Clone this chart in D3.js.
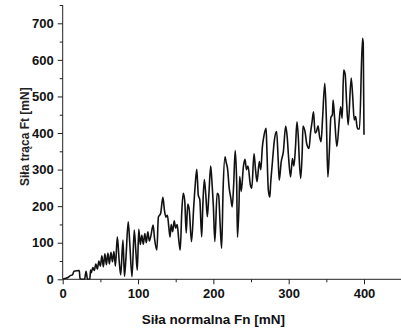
<!DOCTYPE html>
<html><head><meta charset="utf-8">
<script src="https://cdn.jsdelivr.net/npm/d3@7"></script>
<style>body{margin:0;background:#fff}svg{display:block}</style>
</head><body>
<script>
const fnValues = [0,3,7,10,13,15,22,23,26,29,31,33,36,37,38,40,42,44,46,48,50,52,54,56,58,60,62,64,66,68,70,72.5,75,77,80,82,84,87,89,92,95,97,99,101,103,105,107,109,111,113,115,117,120,122,125,127,130,133,135,137,139,141,142.5,144,146,148,150,152,154,156,158,160,162,164,166,168,171,174,176,178,180,182,184.5,186,188,190,192,194,196.5,198,200,202,205,207,209,211,213,215.5,217,219,221,223,225,227,229,231,232,234,235,237,240,242,244,246,249,251,254,256,258,261,263,265,267,270,271,273,275,276,278,281,284,286,287.5,290,293,296,298,300,302.5,305,307,309,311,313,314,316,318,319,322,324,327,329,331,333,335,337,339,341,343,345,348,350,352,354,356,358,359,361,364,367,369,371,373,375,377,379,383,385,387,389,390.5,392,394,398,399,400];
const ftValues = [0,2,5,10,12,22,24,2,0,0,22,0,1,25,18,32,24,42,28,50,36,64,34,70,40,72,42,74,48,76,36,116,50,12,107,8,60,157,100,7,135,80,25,137,95,120,96,125,100,130,105,118,148,110,80,170,180,224,190,170,175,140,116,150,130,160,140,150,110,80,180,235,215,127,206,190,103,200,260,301,230,218,116,200,273,230,171,230,310,270,200,103,235,230,150,85,250,335,320,300,250,225,198,260,352,260,115,200,281,240,310,328,300,310,260,249,343,300,267,322,300,360,390,413,360,244,225,260,310,380,404,330,271,320,350,419,390,330,280,330,310,360,431,380,330,276,350,419,400,370,358,400,430,458,400,405,420,390,376,440,536,440,280,350,442,450,490,440,363,430,472,440,572,560,480,422,550,500,436,445,420,411,411,659,645,395];
const xTicks = [0,100,200,300,400];
const xMinor = [50,150,250,350,450];
const yTicks = [0,100,200,300,400,500,600,700];
const yMinor = [50,150,250,350,450,550,650,750];
const xTitle = "Siła normalna Fn [mN]";
const yTitle = "Siła trąca Ft [mN]";

const W = 401, H = 329;
const svg = d3.select("body").append("svg").attr("width", W).attr("height", H);
const x = d3.scaleLinear().domain([0,400]).range([62.7,364]);
const y = d3.scaleLinear().domain([0,700]).range([279.3,23.3]);
const font = "'Liberation Sans', Arial, sans-serif";

// line
const pts = fnValues.map((v,i)=>[v, ftValues[i]]);
svg.append("path").datum(pts)
  .attr("fill","none").attr("stroke","#111").attr("stroke-width",1.6)
  .attr("stroke-linejoin","round")
  .attr("d", d3.line().x(d=>x(d[0])).y(d=>y(d[1])).curve(d3.curveMonotoneX));

// axes
const xAxis = svg.append("g").attr("transform",`translate(0,${y(0)})`)
  .call(d3.axisBottom(x).tickValues(xTicks).tickSize(5).tickPadding(4).tickFormat(d3.format("d")));
svg.append("g").attr("transform",`translate(0,${y(0)})`)
  .call(d3.axisBottom(x).tickValues(xMinor).tickSize(3).tickFormat(""))
  .call(g=>g.select(".domain").remove());
xAxis.select(".domain").attr("d",`M${x(0)},0H${x(450)}`);

const yAxis = svg.append("g").attr("transform",`translate(${x(0)},0)`)
  .call(d3.axisLeft(y).tickValues(yTicks).tickSize(5).tickPadding(4).tickFormat(d3.format("d")));
svg.append("g").attr("transform",`translate(${x(0)},0)`)
  .call(d3.axisLeft(y).tickValues(yMinor).tickSize(3).tickFormat(""))
  .call(g=>g.select(".domain").remove());
yAxis.select(".domain").attr("d",`M0,${y(0)}V${y(750)}`);

svg.selectAll(".tick line, .domain").attr("stroke","#222").attr("stroke-width",1);
svg.selectAll(".tick text").attr("font-family",font).attr("font-size",13)
  .attr("font-weight","bold").attr("fill","#111");

svg.append("text").attr("x",(x(0)+x(400))/2).attr("y",324)
  .attr("text-anchor","middle").attr("font-family",font).attr("font-size",13.5)
  .attr("font-weight","bold").attr("fill","#111").text(xTitle);
svg.append("text").attr("transform",`translate(29,${y(390)}) rotate(-90)`)
  .attr("text-anchor","middle").attr("font-family",font).attr("font-size",12)
  .attr("font-weight","bold").attr("fill","#222").text(yTitle);
</script>
</body></html>
